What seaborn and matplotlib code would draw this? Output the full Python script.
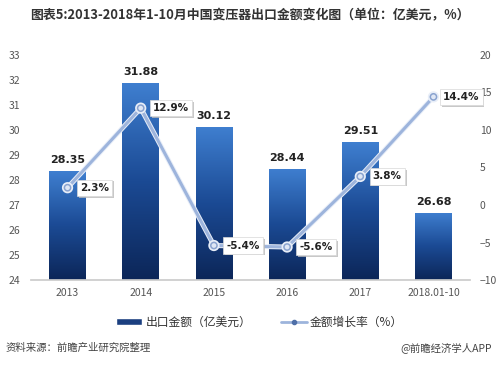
import numpy as np
import pandas as pd
import seaborn as sns
import matplotlib.pyplot as plt
import matplotlib.patheffects as pe
from matplotlib.patches import Patch
from matplotlib.lines import Line2D

years = ['2013', '2014', '2015', '2016', '2017', '2018.01-10']
export_value = [28.35, 31.88, 30.12, 28.44, 29.51, 26.68]
growth_rate = [2.3, 12.9, -5.4, -5.6, 3.8, 14.4]
growth_labels = ['2.3%', '12.9%', '-5.4%', '-5.6%', '3.8%', '14.4%']

sns.set_theme(style='white')
plt.rcParams['font.family'] = ['Noto Sans CJK SC', 'DejaVu Sans']

df = pd.DataFrame({'year': years, 'value': export_value, 'rate': growth_rate})

fig = plt.figure(figsize=(4.99, 3.68), dpi=100)
ax = fig.add_axes([0.062, 0.239, 0.880, 0.612])

sns.barplot(data=df, x='year', y='value', ax=ax, color='#1f4f9a', width=0.5,
            saturation=1, zorder=2)
ax.set_ylim(24, 33)
ax.set_yticks(range(24, 34))

# gradient fill on bars
grad = np.linspace(0, 1, 256).reshape(-1, 1)
cmap = sns.blend_palette(['#0c2658', '#1b4a94', '#3f7fd0'], as_cmap=True)
for p in ax.patches:
    x0, y0 = p.get_x(), p.get_y()
    w, h = p.get_width(), p.get_height()
    im = ax.imshow(grad, extent=[x0, x0 + w, 24, y0 + h], origin='lower',
                   cmap=cmap, aspect='auto', zorder=2)
    im.set_clip_path(p)
    p.set_facecolor('none')
    p.set_edgecolor('none')
ax.set_xlim(-0.5, 5.5)
ax.set_aspect('auto')

for i, v in enumerate(export_value):
    ax.text(i, v + 0.25, f'{v:.2f}', ha='center', va='bottom', fontsize=8,
            fontweight='bold', color='#222222', family='DejaVu Sans')

ax2 = ax.twinx()
sns.lineplot(x=np.arange(len(years)), y=growth_rate, ax=ax2, color='#9db4dc',
             lw=2.2, marker='o', markersize=4.5, markerfacecolor='#dfe7f5',
             markeredgecolor='#8aa3cf', markeredgewidth=1.1, zorder=5,
             path_effects=[pe.Stroke(linewidth=3.6, foreground='#e8eef8'), pe.Normal()])
ax2.set_ylim(-10, 20)
ax2.set_yticks(range(-10, 21, 5))
ax2.set_xlim(-0.5, 5.5)

shadow = [pe.withSimplePatchShadow(offset=(1.2, -1.2), shadow_rgbFace='#bbbbbb', alpha=0.8)]
for i, (r, lab) in enumerate(zip(growth_rate, growth_labels)):
    dx = 7 if i == len(growth_rate) - 1 else 9
    t = ax2.annotate(lab, xy=(i, r), xytext=(dx, 0), textcoords='offset points',
                     ha='left', va='center', fontsize=7.5, fontweight='bold',
                     color='#222222', family='DejaVu Sans', zorder=6,
                     bbox=dict(boxstyle='square,pad=0.3', fc='white', ec='#d8d8d8', lw=0.5))
    t.get_bbox_patch().set_path_effects(shadow)

for a in (ax, ax2):
    for s in a.spines.values():
        s.set_visible(False)
    a.tick_params(length=0, labelsize=7.5, colors='#555555')
ax.spines['bottom'].set_visible(True)
ax.spines['bottom'].set_color('#cccccc')
ax.set_xlabel('')
ax.set_ylabel('')
ax2.set_ylabel('')
ax.tick_params(axis='x', pad=6)
ax.tick_params(axis='y', pad=8)
ax2.tick_params(axis='y', pad=7)

fig.text(0.5, 0.958, '图表5:2013-2018年1-10月中国变压器出口金额变化图（单位：亿美元，%）',
         ha='center', va='center', fontsize=9.3, fontweight='bold', color='#333333')

handles = [Patch(facecolor='#1b3f80', label='出口金额（亿美元）'),
           Line2D([0], [0], color='#9db4dc', lw=2, marker='o', markersize=3,
                  markerfacecolor='#4f6fa8', markeredgecolor='#4f6fa8',
                  label='金额增长率（%）')]
fig.legend(handles=handles, loc='center', bbox_to_anchor=(0.52, 0.125), ncol=2,
           frameon=False, fontsize=8.5, handlelength=2.2, handleheight=0.5,
           handletextpad=0.3, columnspacing=2.5, labelcolor='#333333')

fig.text(0.012, 0.055, '资料来源：前瞻产业研究院整理', ha='left', va='center',
         fontsize=7.5, style='italic', color='#444444')
fig.text(0.985, 0.055, '@前瞻经济学人APP', ha='right', va='center',
         fontsize=7.5, color='#444444')

fig.savefig('out.png', dpi=100)
